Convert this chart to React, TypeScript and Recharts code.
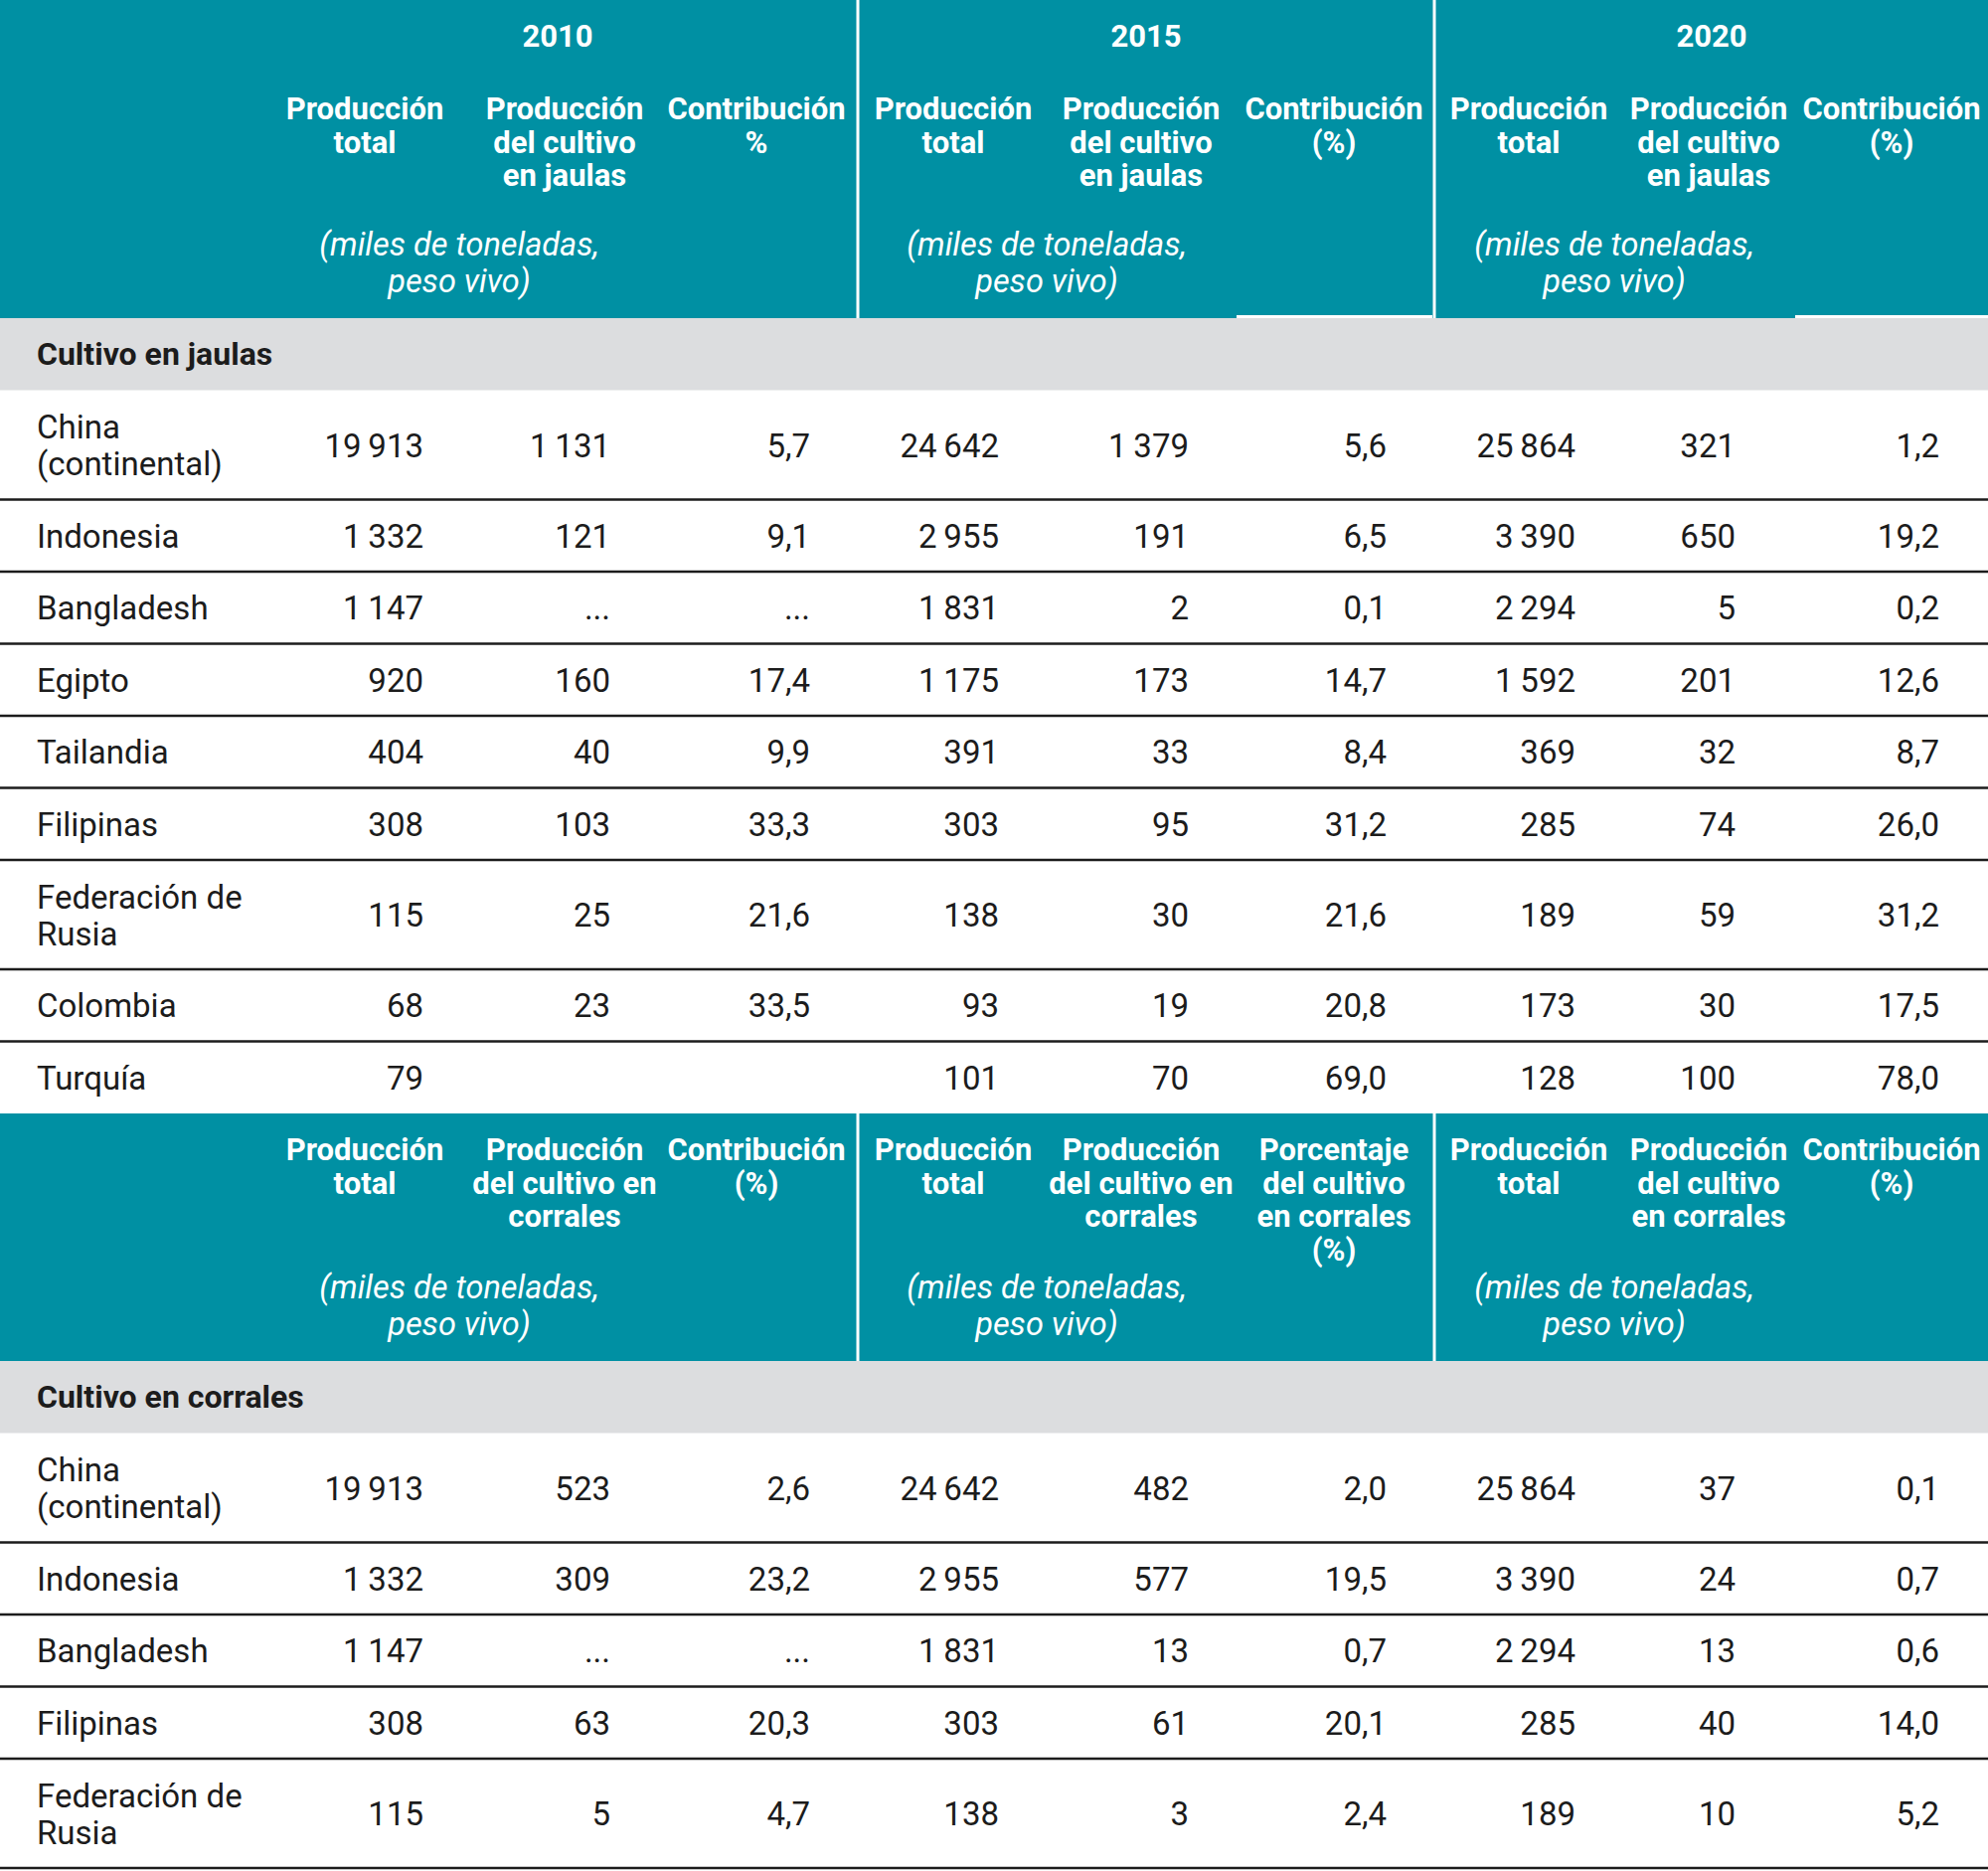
import { ComposedChart, XAxis, YAxis, Scatter, ReferenceArea, ReferenceLine } from 'recharts';

document.body.style.margin = '0';

// ---- data ----
const years = ['2010', '2015', '2020'];
const unitNote = ['(miles de toneladas,', 'peso vivo)'];

const cageHeaders = [
  ['Producción', 'total'], ['Producción', 'del cultivo', 'en jaulas'], ['Contribución', '%'],
  ['Producción', 'total'], ['Producción', 'del cultivo', 'en jaulas'], ['Contribución', '(%)'],
  ['Producción', 'total'], ['Producción', 'del cultivo', 'en jaulas'], ['Contribución', '(%)'],
];
const penHeaders = [
  ['Producción', 'total'], ['Producción', 'del cultivo en', 'corrales'], ['Contribución', '(%)'],
  ['Producción', 'total'], ['Producción', 'del cultivo en', 'corrales'], ['Porcentaje', 'del cultivo', 'en corrales', '(%)'],
  ['Producción', 'total'], ['Producción', 'del cultivo', 'en corrales'], ['Contribución', '(%)'],
];

const cageSection = 'Cultivo en jaulas';
const penSection = 'Cultivo en corrales';

const cageCountries = ['China\n(continental)', 'Indonesia', 'Bangladesh', 'Egipto', 'Tailandia', 'Filipinas', 'Federación de\nRusia', 'Colombia', 'Turquía'];
const cage2010Total = [19913, 1332, 1147, 920, 404, 308, 115, 68, 79];
const cage2010Cage: (number | string)[] = [1131, 121, '...', 160, 40, 103, 25, 23, ''];
const cage2010Pct: (number | string)[] = [5.7, 9.1, '...', 17.4, 9.9, 33.3, 21.6, 33.5, ''];
const cage2015Total = [24642, 2955, 1831, 1175, 391, 303, 138, 93, 101];
const cage2015Cage = [1379, 191, 2, 173, 33, 95, 30, 19, 70];
const cage2015Pct = [5.6, 6.5, 0.1, 14.7, 8.4, 31.2, 21.6, 20.8, 69.0];
const cage2020Total = [25864, 3390, 2294, 1592, 369, 285, 189, 173, 128];
const cage2020Cage = [321, 650, 5, 201, 32, 74, 59, 30, 100];
const cage2020Pct = [1.2, 19.2, 0.2, 12.6, 8.7, 26.0, 31.2, 17.5, 78.0];

const penCountries = ['China\n(continental)', 'Indonesia', 'Bangladesh', 'Filipinas', 'Federación de\nRusia'];
const pen2010Total = [19913, 1332, 1147, 308, 115];
const pen2010Pen: (number | string)[] = [523, 309, '...', 63, 5];
const pen2010Pct: (number | string)[] = [2.6, 23.2, '...', 20.3, 4.7];
const pen2015Total = [24642, 2955, 1831, 303, 138];
const pen2015Pen = [482, 577, 13, 61, 3];
const pen2015Pct = [2.0, 19.5, 0.7, 20.1, 2.4];
const pen2020Total = [25864, 3390, 2294, 285, 189];
const pen2020Pen = [37, 24, 13, 40, 10];
const pen2020Pct = [0.1, 0.7, 0.6, 14.0, 5.2];

// ---- layout / style ----
const W = 2000;
const H = 1882;
const TEAL = '#0090a3';
const GRAY = '#dcdddf';
const INK = '#1c1c1c';
const FONT = 'Roboto, "Noto Sans", sans-serif';

const colRight = [426, 614, 815, 1005, 1196, 1395, 1585, 1746, 1951];
const colCenter = [367, 568, 761, 959, 1148, 1342, 1538, 1719, 1903];
const yearCenter = [561, 1153, 1722];
const noteCenter = [462, 1053, 1624];
const dividerX = [863, 1443];
const labelX = 37;
const ROW = 72.5;
const ROW2 = 110;

const fmtInt = (v: number | string) =>
  typeof v === 'string' ? v : String(v).replace(/\B(?=(\d{3})+(?!\d))/g, '\u2009');
const fmtPct = (v: number | string) =>
  typeof v === 'string' ? v : v.toFixed(1).replace('.', ',');

type Block = {
  headers: string[][];
  withYears: boolean;
  headerH: number;
  headOffset: number;
  noteOffset: number;
  section: string;
  countries: string[];
  cols: (number | string)[][];
  lastLine: boolean;
};

const blocks: Block[] = [
  {
    headers: cageHeaders, withYears: true, headerH: 320, headOffset: 109, noteOffset: 246,
    section: cageSection, countries: cageCountries,
    cols: [cage2010Total, cage2010Cage, cage2010Pct, cage2015Total, cage2015Cage, cage2015Pct, cage2020Total, cage2020Cage, cage2020Pct],
    lastLine: false,
  },
  {
    headers: penHeaders, withYears: false, headerH: 249, headOffset: 36, noteOffset: 175,
    section: penSection, countries: penCountries,
    cols: [pen2010Total, pen2010Pen, pen2010Pct, pen2015Total, pen2015Pen, pen2015Pct, pen2020Total, pen2020Pen, pen2020Pct],
    lastLine: true,
  },
];

const headerAreas: { y1: number; y2: number }[] = [];
const sectionAreas: { y1: number; y2: number }[] = [];
const rowLines: number[] = [];
const headCells: any[] = [];
const yearCells: any[] = [];
const noteCells: any[] = [];
const sectionCells: any[] = [];
const labelCells: any[] = [];
const valueCells: any[] = [];

let top = 0;
blocks.forEach((b) => {
  headerAreas.push({ y1: top, y2: top + b.headerH });
  if (b.withYears) years.forEach((yr, i) => yearCells.push({ x: yearCenter[i], y: top + 36, lines: [yr] }));
  b.headers.forEach((h, i) => headCells.push({ x: colCenter[i], y: top + b.headOffset, lines: h }));
  noteCenter.forEach((x) => noteCells.push({ x, y: top + b.noteOffset, lines: unitNote }));
  top += b.headerH;
  sectionAreas.push({ y1: top, y2: top + ROW });
  sectionCells.push({ x: labelX, y: top + ROW / 2, lines: [b.section] });
  top += ROW;
  b.countries.forEach((c, r) => {
    const lines = c.split('\n');
    const h = lines.length > 1 ? ROW2 : ROW;
    const mid = top + h / 2;
    labelCells.push({ x: labelX, y: mid, lines });
    b.cols.forEach((col, ci) => {
      const fmt = ci % 3 === 2 ? fmtPct : fmtInt;
      valueCells.push({ x: colRight[ci], y: mid, lines: [fmt(col[r])] });
    });
    top += h;
    if (r < b.countries.length - 1 || b.lastLine) rowLines.push(top);
  });
});

const makeText = (opts: {
  anchor: 'start' | 'middle' | 'end';
  fill: string;
  size: number;
  weight?: number;
  italic?: boolean;
  gap: number;
  centered?: boolean;
}) => (props: any) => {
  const { cx, cy, payload } = props;
  const lines: string[] = payload.lines;
  const start = opts.centered ? cy - ((lines.length - 1) * opts.gap) / 2 : cy;
  return (
    <text
      x={cx}
      y={start}
      textAnchor={opts.anchor}
      dominantBaseline="central"
      fill={opts.fill}
      fontSize={opts.size}
      fontWeight={opts.weight ?? 400}
      fontStyle={opts.italic ? 'italic' : 'normal'}
      fontFamily={FONT}
    >
      {lines.map((l, i) => (
        <tspan key={i} x={cx} dy={i === 0 ? 0 : opts.gap}>
          {l}
        </tspan>
      ))}
    </text>
  );
};

const HeadText = makeText({ anchor: 'middle', fill: '#fff', size: 31, weight: 700, gap: 33.5 });
const NoteText = makeText({ anchor: 'middle', fill: '#fff', size: 32.5, italic: true, gap: 37 });
const SectionText = makeText({ anchor: 'start', fill: INK, size: 32, weight: 700, gap: 37, centered: true });
const LabelText = makeText({ anchor: 'start', fill: INK, size: 33, gap: 37, centered: true });
const ValueText = makeText({ anchor: 'end', fill: INK, size: 33, gap: 37, centered: true });

export default function App() {
  return (
    <div style={{ width: W, height: H, background: '#fff', fontFamily: FONT }}>
      <ComposedChart width={W} height={H} margin={{ top: 0, right: 0, bottom: 0, left: 0 }}>
        <XAxis type="number" dataKey="x" domain={[0, W]} allowDataOverflow hide />
        <YAxis type="number" dataKey="y" domain={[0, H]} allowDataOverflow reversed hide />
        {headerAreas.map((a, i) => (
          <ReferenceArea key={`h${i}`} x1={0} x2={W} y1={a.y1} y2={a.y2} fill={TEAL} fillOpacity={1} stroke="none" />
        ))}
        {sectionAreas.map((a, i) => (
          <ReferenceArea key={`s${i}`} x1={0} x2={W} y1={a.y1} y2={a.y2} fill={GRAY} fillOpacity={1} stroke="none" />
        ))}
        {headerAreas.flatMap((a, i) =>
          dividerX.map((x) => (
            <ReferenceLine
              key={`d${i}-${x}`}
              segment={[{ x, y: a.y1 }, { x, y: a.y2 }]}
              stroke="#fff"
              strokeWidth={3}
            />
          ))
        )}
        <ReferenceLine segment={[{ x: 1244, y: 318.5 }, { x: 1441, y: 318.5 }]} stroke="#fff" strokeWidth={3} />
        <ReferenceLine segment={[{ x: 1806, y: 318.5 }, { x: W, y: 318.5 }]} stroke="#fff" strokeWidth={3} />
        {rowLines.map((y, i) => (
          <ReferenceLine key={`r${i}`} y={y} stroke={INK} strokeWidth={2.5} />
        ))}
        <Scatter data={yearCells} shape={HeadText} isAnimationActive={false} />
        <Scatter data={headCells} shape={HeadText} isAnimationActive={false} />
        <Scatter data={noteCells} shape={NoteText} isAnimationActive={false} />
        <Scatter data={sectionCells} shape={SectionText} isAnimationActive={false} />
        <Scatter data={labelCells} shape={LabelText} isAnimationActive={false} />
        <Scatter data={valueCells} shape={ValueText} isAnimationActive={false} />
      </ComposedChart>
    </div>
  );
}
